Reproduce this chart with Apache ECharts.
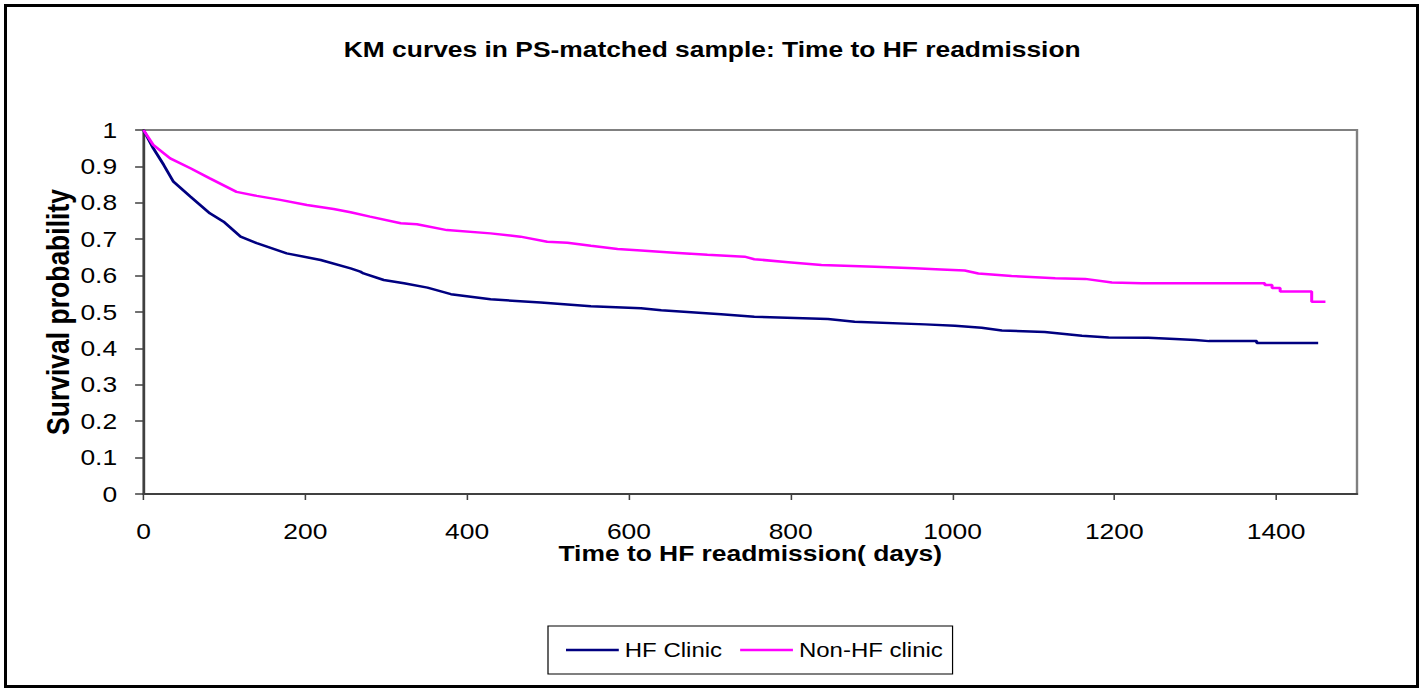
<!DOCTYPE html>
<html>
<head>
<meta charset="utf-8">
<title>KM curves in PS-matched sample</title>
<script src="https://cdn.jsdelivr.net/npm/echarts@6.0.0/dist/echarts.min.js"></script>
<style>
  html, body { margin: 0; padding: 0; background: #fff; }
  /* outer chart frame */
  #frame { position: absolute; left: 4px; top: 4px; width: 1415px; height: 684px; box-sizing: border-box; border: 3px solid #000; pointer-events: none; }
  /* the source picture has all of its text stretched ~1.2x sideways, so the chart is drawn narrow and widened */
  #chart { position: absolute; left: 0; top: 0; width: 1187px; height: 690px; transform: scaleX(1.2); transform-origin: 0 0; }
</style>
</head>
<body>
<div id="chart"></div>
<div id="frame"></div>
<script>
// HF Clinic (days, survival probability)
const hfDays = [0, 12, 25, 37, 58, 82, 99, 120, 140, 177, 219, 256, 268, 272, 297, 322, 351, 380, 429, 491, 553, 615, 640, 714, 755, 846, 879, 966, 1003, 1036, 1061, 1114, 1160, 1193, 1242, 1275, 1300, 1317, 1376, 1376, 1452]
const hfSurv = [1.0, 0.95, 0.904, 0.858, 0.817, 0.771, 0.748, 0.707, 0.689, 0.661, 0.643, 0.62, 0.611, 0.606, 0.588, 0.579, 0.567, 0.549, 0.535, 0.526, 0.516, 0.51, 0.505, 0.494, 0.487, 0.481, 0.473, 0.466, 0.462, 0.457, 0.449, 0.445, 0.435, 0.43, 0.429, 0.426, 0.423, 0.42, 0.42, 0.415, 0.415]

// Non-HF clinic
const nonHfDays = [0, 12, 33, 58, 82, 115, 140, 169, 202, 235, 256, 280, 318, 338, 375, 429, 466, 499, 524, 553, 586, 615, 656, 697, 743, 755, 797, 838, 904, 953, 986, 1015, 1032, 1073, 1127, 1164, 1197, 1234, 1386, 1386, 1395, 1395, 1405, 1405, 1444, 1444, 1461]
const nonHfSurv = [1.0, 0.959, 0.922, 0.895, 0.867, 0.83, 0.819, 0.808, 0.794, 0.783, 0.774, 0.762, 0.744, 0.741, 0.725, 0.716, 0.707, 0.693, 0.69, 0.682, 0.673, 0.669, 0.663, 0.657, 0.652, 0.645, 0.637, 0.629, 0.624, 0.62, 0.617, 0.614, 0.606, 0.599, 0.593, 0.591, 0.581, 0.579, 0.579, 0.574, 0.574, 0.566, 0.566, 0.556, 0.556, 0.528, 0.528]

const xTicks = [0, 200, 400, 600, 800, 1000, 1200, 1400]

const S = 1.2
const W = 1187
const px = v => v / S  // page x -> chart x

const font = 'Liberation Sans, Arial, sans-serif'
const axisColor = '#404040'

const chart = echarts.init(document.getElementById('chart'), null, { renderer: 'svg' })
chart.setOption({
  animation: false,
  backgroundColor: '#fff',
  textStyle: { fontFamily: font, color: '#000' },
  title: {
    text: 'KM curves in PS-matched sample: Time to HF readmission',
    left: 'center',
    top: 38,
    padding: 0,
    textStyle: { fontFamily: font, fontSize: 22, fontWeight: 'bold', color: '#000' },
  },
  grid: {
    left: px(143.5),
    right: W - px(1357),
    top: 130,
    bottom: 196,
    show: true,
    borderColor: '#808080',
    borderWidth: 2,
    outerBoundsMode: 'none',
  },
  legend: {
    left: px(548),
    top: 626,
    orient: 'horizontal',
    padding: [14, 8, 14, 15],
    itemGap: 15,
    icon: 'rect',
    itemWidth: 44,
    itemHeight: 2.5,
    borderColor: '#000',
    borderWidth: 1,
    data: ['HF Clinic', 'Non-HF clinic'],
    textStyle: { fontFamily: font, fontSize: 20, color: '#000' },
  },
  xAxis: {
    type: 'value',
    min: 0,
    max: 1500,
    interval: 200,
    name: 'Time to HF readmission( days)',
    nameLocation: 'middle',
    nameGap: 48,
    nameMoveOverlap: false,
    nameTextStyle: { fontFamily: font, fontSize: 22, fontWeight: 'bold', color: '#000' },
    axisLine: { show: true, lineStyle: { color: axisColor, width: 2 } },
    axisTick: { show: true, length: 6, customValues: xTicks, lineStyle: { color: axisColor, width: 1.3 } },
    axisLabel: { margin: 26, fontSize: 22, color: '#000', customValues: xTicks, formatter: v => String(v) },
    splitLine: { show: false },
  },
  yAxis: {
    type: 'value',
    min: 0,
    max: 1,
    interval: 0.1,
    name: 'Survival probability',
    nameLocation: 'middle',
    nameGap: 58,
    nameMoveOverlap: false,
    nameTextStyle: { fontFamily: font, fontSize: 26.5, fontWeight: 'bold', color: '#000' },
    axisLine: { show: true, lineStyle: { color: axisColor, width: 2 } },
    axisTick: { show: true, length: 7, lineStyle: { color: axisColor, width: 1.5 } },
    axisLabel: { margin: 22, fontSize: 22, color: '#000' },
    splitLine: { show: false },
  },
  series: [
    {
      name: 'HF Clinic',
      type: 'line',
      symbol: 'none',
      data: hfDays.map((d, i) => [d, hfSurv[i]]),
      lineStyle: { color: '#000080', width: 2.5 },
      itemStyle: { color: '#000080' },
    },
    {
      name: 'Non-HF clinic',
      type: 'line',
      symbol: 'none',
      data: nonHfDays.map((d, i) => [d, nonHfSurv[i]]),
      lineStyle: { color: '#ff00ff', width: 2.5 },
      itemStyle: { color: '#ff00ff' },
    },
  ],
})
</script>
</body>
</html>
